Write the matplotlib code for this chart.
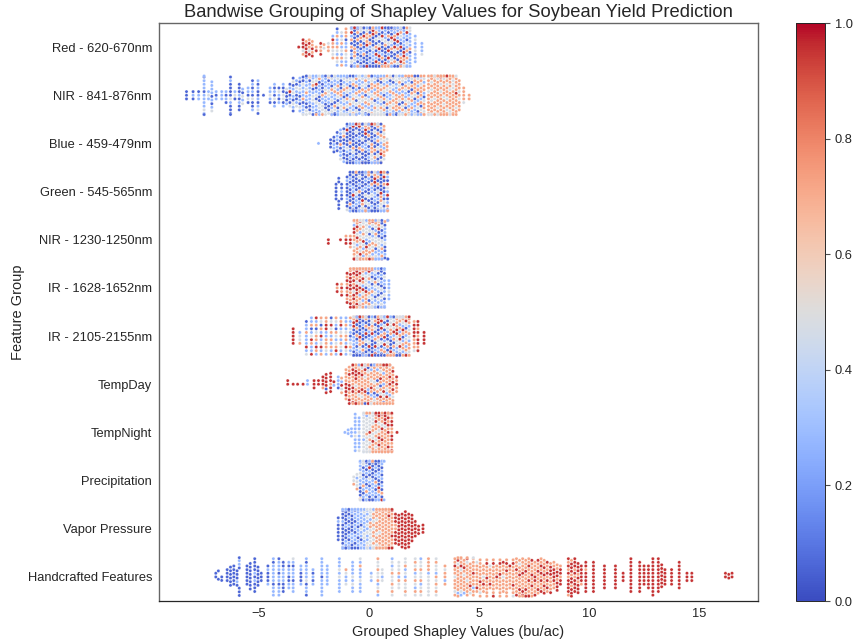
import warnings
from math import gcd
import numpy as np
import pandas as pd
import seaborn as sns
import matplotlib
matplotlib.use("Agg")
import matplotlib.pyplot as plt

warnings.filterwarnings("ignore")

groups = ["Red - 620-670nm", "NIR - 841-876nm", "Blue - 459-479nm", "Green - 545-565nm",
          "NIR - 1230-1250nm", "IR - 1628-1652nm", "IR - 2105-2155nm", "TempDay",
          "TempNight", "Precipitation", "Vapor Pressure", "Handcrafted Features"]

# colour value of each of the five count columns below
hue_levels = [0.06, 0.28, 0.48, 0.72, 0.95]

# x of a column of dots, then (blue, light blue, grey, salmon, red) counts in that column
red_x = [-3.2, -3.0, -2.86, -2.72, -2.58, -2.4, -2.2, -2.05, -1.85, -1.65, -1.45, -1.25, -1.05, -0.8, -0.66, -0.52,
         -0.38, -0.24, -0.1, 0.04, 0.18, 0.32, 0.46, 0.6, 0.74, 0.88, 1.02, 1.16, 1.3, 1.44, 1.58, 1.72, 1.86, 2.1, 2.4]
red_n = [(0,0,0,0,1), (0,0,1,1,3), (0,0,0,1,4), (0,0,1,2,2), (0,0,0,3,2), (0,0,0,1,1), (0,0,0,2,2), (0,0,1,1,0),
         (0,0,1,2,0), (0,1,2,3,1), (1,5,2,3,0), (0,4,3,3,0), (1,4,2,4,0), (5,4,1,3,2), (6,4,1,3,1), (7,3,1,3,1),
         (6,4,2,2,1), (7,3,1,3,1), (6,3,1,3,2), (7,4,1,2,1), (7,3,1,2,2), (6,3,1,3,2), (6,3,2,2,2), (6,3,1,3,2),
         (5,4,1,3,2), (6,3,1,3,2), (5,3,2,3,1), (5,3,1,3,2), (4,4,2,3,2), (4,4,2,3,2), (3,5,2,3,2), (2,6,2,3,1),
         (1,9,2,1,0), (0,6,2,0,0), (0,3,1,0,0)]

nir_x = [-8.3, -8.0, -7.75, -7.5, -7.3, -7.15, -6.95, -6.7, -6.5, -6.3, -6.1, -5.9, -5.75, -5.5, -5.3, -5.05, -4.8,
         -4.5, -4.3, -4.1, -3.9, -3.75, -3.6, -3.45, -3.3, -3.15, -3.0, -2.85, -2.7, -2.55, -2.4, -2.26, -2.12, -1.98,
         -1.84, -1.7, -1.56, -1.42, -1.28, -1.14, -1.0, -0.86, -0.72, -0.58, -0.44, -0.3, -0.16, -0.02, 0.12, 0.26, 0.4,
         0.54, 0.68, 0.82, 0.96, 1.1, 1.24, 1.38, 1.52, 1.66, 1.8, 1.94, 2.08, 2.22, 2.36, 2.5, 2.7, 2.84, 2.98, 3.12,
         3.26, 3.4, 3.54, 3.68, 3.82, 3.96, 4.1, 4.3, 4.55]
nir_n = [(3,0,0,0,0), (2,1,0,0,0), (1,2,0,0,0), (3,10,1,0,0), (0,2,1,0,0), (2,6,1,0,0), (1,2,0,0,0), (0,3,0,0,0),
         (2,2,0,0,0), (9,2,1,0,0), (1,1,1,0,0), (6,2,0,0,0), (1,2,2,0,0), (2,2,1,0,0), (5,3,1,0,0),
         (5,4,1,0,0), (1,0,0,0,0), (1,3,1,0,0), (3,3,1,0,0), (2,2,1,0,0), (3,2,2,0,0), (3,1,1,0,0), (3,2,1,0,1),
         (4,3,3,0,0), (3,3,2,0,0), (3,5,2,0,0), (3,6,2,1,0), (3,5,3,1,0), (3,6,2,1,0), (2,6,3,1,0), (3,5,3,1,1),
         (3,5,3,1,0), (3,5,3,2,0), (3,5,3,1,0), (3,4,4,1,0), (3,5,3,1,1), (3,5,3,2,0), (3,5,3,2,0), (3,4,4,2,0),
         (2,5,4,2,0), (3,4,4,2,0), (2,5,4,2,0), (2,4,4,3,0), (2,4,3,3,1), (2,4,4,2,0), (1,4,5,3,0), (2,4,4,3,0),
         (2,3,4,4,0), (1,4,4,4,0), (1,3,5,4,0), (2,3,4,4,0), (1,3,4,5,0), (2,3,4,4,0), (2,4,3,4,0), (1,4,4,4,0),
         (2,3,4,4,0), (2,3,3,5,0), (1,3,4,5,0), (2,3,3,5,0), (1,3,4,5,0), (2,3,3,5,0), (2,3,2,6,0), (2,4,2,5,0),
         (3,3,2,5,0), (1,3,2,7,0), (1,2,3,7,0), (0,0,3,11,0), (0,0,4,10,0), (0,0,3,11,0), (0,0,3,11,0), (0,0,3,11,1),
         (0,0,3,11,0), (0,0,3,10,1), (0,0,3,11,0), (0,0,3,10,0), (0,0,2,9,1), (0,0,2,7,0), (0,0,1,4,0), (0,0,0,2,0)]

blue_x = [-2.3, -1.75, -1.6, -1.45, -1.3, -1.15, -1.0, -0.86, -0.72, -0.58, -0.44, -0.3, -0.16, -0.02, 0.12, 0.26, 0.4,
          0.54, 0.68, 0.82]
blue_n = [(0,1,0,0,0), (3,0,0,0,0), (3,2,0,0,0), (3,3,0,0,0), (3,4,1,1,0), (6,2,1,1,0), (8,2,1,0,1), (10,3,1,1,0),
          (9,3,1,2,1), (9,3,1,1,1), (8,3,1,2,1), (8,3,2,1,1), (8,2,1,2,2), (7,3,2,2,1), (6,3,2,3,1), (6,3,2,3,1),
          (5,3,3,3,1), (4,3,3,4,1), (0,1,3,6,0), (0,0,1,3,0)]

green_x = [-1.5, -1.38, -1.25, -1.0, -0.86, -0.72, -0.58, -0.44, -0.3, -0.16, -0.02, 0.12, 0.26, 0.4, 0.54, 0.68, 0.84]
green_n = [(5,0,0,0,0), (5,0,0,0,0), (4,1,0,0,0), (7,2,1,0,0), (10,3,1,1,0), (10,3,1,0,1), (9,3,1,1,1), (8,4,2,1,0),
           (8,3,2,1,1), (7,4,2,2,0), (7,3,3,2,0), (7,4,2,2,0), (7,3,1,2,2), (6,4,2,2,1), (6,3,2,2,2), (6,3,2,2,2),
           (4,4,1,3,2)]

nir2_x = [-1.85, -1.3, -1.05, -0.85, -0.68, -0.54, -0.4, -0.26, -0.12, 0.02, 0.16, 0.3, 0.44, 0.58, 0.72, 0.85]
nir2_n = [(0,0,0,0,2), (0,0,0,0,1), (0,0,0,1,2), (0,0,0,2,2), (0,1,3,8,4), (0,1,4,8,3), (0,1,6,6,3), (0,2,6,6,1),
          (1,2,6,5,1), (1,3,5,5,1), (1,3,5,5,1), (2,4,4,4,1), (2,5,4,3,1), (4,5,3,2,1), (5,4,1,1,0), (2,2,0,0,1)]

ir1_x = [-1.45, -1.25, -1.0, -0.85, -0.7, -0.56, -0.42, -0.28, -0.14, 0.0, 0.14, 0.28, 0.42, 0.56, 0.7, 0.9]
ir1_n = [(0,0,0,1,2), (0,0,0,2,2), (0,0,0,4,5), (0,0,0,5,7), (0,0,1,6,8), (0,0,3,6,6), (0,1,4,6,5), (0,2,4,7,3),
         (1,2,5,5,3), (1,4,5,4,2), (3,5,4,2,1), (3,5,4,3,0), (4,6,3,1,0), (5,6,3,1,0), (4,8,2,0,0), (0,5,1,0,0)]

ir2_x = [-3.45, -3.15, -2.85, -2.62, -2.4, -2.18, -1.95, -1.72, -1.5, -1.28, -1.05, -0.85, -0.7, -0.56, -0.42, -0.28,
         -0.14, 0.0, 0.14, 0.28, 0.42, 0.56, 0.7, 0.84, 0.98, 1.12, 1.26, 1.4, 1.54, 1.68, 1.82, 2.05, 2.22, 2.5]
ir2_n = [(0,0,0,0,5), (0,1,2,1,0), (1,6,1,1,1), (1,5,1,2,2), (1,3,1,4,2), (1,3,2,3,2), (0,3,1,5,2), (1,3,2,4,1),
         (1,3,3,3,1), (0,4,2,3,2), (0,5,2,3,1), (1,5,3,2,0), (6,4,1,2,2), (7,3,1,2,2), (7,3,1,2,2), (7,3,1,3,1),
         (6,3,2,2,2), (6,4,1,2,2), (6,3,2,2,2), (6,3,1,3,2), (5,3,2,3,2), (5,3,2,3,2), (4,4,2,3,2), (4,3,3,3,2),
         (3,3,3,4,2), (3,3,3,4,2), (2,3,4,4,2), (2,3,3,5,2), (2,3,3,5,1), (1,3,3,5,2), (0,2,4,7,1), (0,0,1,4,4),
         (0,0,0,3,6), (0,0,0,0,4)]

tday_x = [-3.7, -3.45, -3.25, -3.0, -2.8, -2.5, -2.3, -2.1, -1.95, -1.75, -1.6, -1.4, -1.25, -1.05, -0.9, -0.74, -0.6,
          -0.46, -0.32, -0.18, -0.04, 0.1, 0.24, 0.38, 0.52, 0.66, 0.8, 0.94, 1.08, 1.25]
tday_n = [(0,0,0,0,2), (0,0,0,0,1), (0,0,0,0,1), (0,0,0,0,1), (0,2,0,0,0), (0,0,0,0,3), (0,0,0,0,2), (0,0,0,1,3),
          (1,0,0,0,5), (0,0,0,1,5), (0,1,0,0,1), (1,3,0,0,0), (0,1,1,2,1), (0,0,0,5,4), (0,0,0,6,5), (0,0,0,8,6),
          (0,0,1,10,5), (0,1,1,10,3), (0,1,2,10,3), (1,1,2,9,3), (2,2,2,9,2), (2,2,2,9,1), (2,2,2,9,1), (2,2,2,9,1),
          (1,2,2,9,2), (1,2,2,9,2), (0,1,2,10,3), (0,1,1,9,3), (0,0,1,7,3), (0,0,0,3,2)]

tnight_x = [-1.1, -0.95, -0.8, -0.63, -0.45, -0.25, -0.11, 0.03, 0.17, 0.31, 0.45, 0.59, 0.73, 0.87, 1.03, 1.27]
tnight_n = [(0,1,0,0,0), (0,2,0,0,0), (0,3,0,0,0), (0,10,1,0,0), (0,8,2,0,0), (0,3,12,0,0), (0,1,11,3,0), (0,0,10,4,1),
            (0,0,7,7,1), (0,0,4,8,3), (0,0,3,8,4), (0,0,2,9,4), (0,0,1,9,5), (0,0,0,9,6), (0,0,0,8,6), (0,0,0,0,1)]

precip_x = [-0.7, -0.55, -0.4, -0.26, -0.12, 0.02, 0.16, 0.3, 0.44, 0.58, 0.68]
precip_n = [(0,0,2,1,0), (0,1,3,1,0), (3,7,4,1,0), (5,7,2,1,0), (6,7,1,1,0), (6,7,1,1,1), (7,6,0,1,1), (7,6,1,1,0),
            (7,6,0,1,1), (6,6,0,2,1), (0,3,0,0,0)]

vapor_x = [-1.4, -1.2, -1.06, -0.92, -0.78, -0.64, -0.5, -0.36, -0.22, -0.08, 0.06, 0.2, 0.34, 0.48, 0.62, 0.76, 0.9,
           1.04, 1.2, 1.35, 1.5, 1.65, 1.8, 1.95, 2.1, 2.25, 2.45]
vapor_n = [(6,1,0,0,0), (12,4,0,0,0), (11,5,0,0,0), (10,6,0,0,0), (9,7,0,0,0), (6,10,0,0,0), (4,12,0,0,0), (2,12,2,0,0),
           (0,11,5,0,0), (0,7,8,1,0), (0,3,10,3,0), (0,1,7,8,0), (0,0,3,13,0), (0,0,2,14,0), (0,0,1,15,0), (0,0,0,15,1),
           (0,0,0,14,2), (0,0,0,12,4), (0,0,0,2,7), (0,0,0,0,9), (0,0,0,0,10), (0,0,0,0,11), (0,0,0,0,10), (0,0,0,0,8),
           (0,0,0,0,5), (0,0,0,0,3), (0,0,0,0,3)]

hand_x = [-6.97, -6.85, -6.7, -6.45, -6.3, -6.15, -6.0, -5.9, -5.55, -5.4, -5.2, -5.05, -4.9, -4.6, -4.35, -4.1, -3.9,
          -3.65, -3.45, -3.1, -2.85, -2.55, -2.15, -1.9, -1.35, -1.05, -0.75, -0.4, 0.1, 0.4, 0.6, 1.05, 1.35, 1.65,
          2.1, 2.35, 2.7, 3.05, 3.45, 3.9, 4.04, 4.18, 4.32, 4.46, 4.6, 4.74, 4.9, 5.05, 5.2, 5.35, 5.5, 5.65, 5.8,
          5.95, 6.1, 6.25, 6.4, 6.55, 6.7, 6.84, 6.98, 7.12, 7.26, 7.4, 7.54, 7.68, 7.82, 7.96, 8.1, 8.25, 8.4, 8.55,
          8.7, 9.06, 9.2, 9.35, 9.5, 9.65, 9.85, 10.2, 10.7, 11.2, 11.55, 11.9, 12.3, 12.5, 12.7, 12.9, 13.15, 13.3,
          13.45, 13.75, 14.1, 14.45, 14.67, 16.2, 16.35, 16.5]
hand_n = [(2,0,0,0,0), (2,0,0,0,0), (2,0,0,0,0), (4,0,0,0,0), (6,0,0,0,0), (6,0,0,0,0), (4,1,0,0,0), (5,2,0,0,0),
          (6,0,0,0,0), (8,0,0,0,0), (8,2,0,0,0), (6,0,0,0,0), (3,0,0,0,0), (4,2,0,0,0), (2,9,0,0,0), (3,8,0,0,0),
          (5,4,0,0,0), (3,5,0,0,0), (2,7,1,0,0), (3,3,0,0,0), (3,7,1,0,0), (2,3,0,0,0), (1,10,0,0,0), (0,6,0,0,0),
          (0,8,2,0,0), (0,2,2,1,0), (0,7,2,0,0), (0,7,2,1,0), (0,2,1,0,0), (0,2,5,4,0), (0,1,3,0,0), (0,2,6,3,0),
          (0,1,5,2,0), (0,2,6,3,0), (0,2,5,4,0), (0,2,6,3,0), (0,1,6,4,0), (0,1,6,4,0), (0,1,1,4,0), (0,0,2,8,1),
          (0,1,1,9,1), (0,1,2,8,1), (0,1,1,7,1), (0,0,2,9,1), (0,0,1,7,1), (0,1,1,9,1), (0,0,1,7,1), (0,0,1,9,1),
          (0,0,1,6,1), (0,0,0,9,2), (0,0,1,5,1), (0,0,0,9,2), (0,0,0,6,1), (0,0,0,9,2), (0,0,1,7,1), (0,0,0,9,2),
          (0,0,0,6,1), (0,0,1,8,2), (0,0,0,9,2), (0,0,1,8,2), (0,0,0,9,3), (0,0,0,8,3), (0,0,0,9,3), (0,0,0,8,3),
          (0,0,0,7,3), (0,0,0,7,3), (0,0,0,6,4), (0,0,0,6,4), (0,0,0,5,4), (0,0,0,5,4), (0,0,0,4,4), (0,0,0,3,5),
          (0,0,0,2,4), (0,0,0,4,7), (0,0,0,3,8), (0,0,0,2,8), (0,0,0,2,7), (0,0,0,1,5), (0,0,0,1,8), (0,0,0,0,9),
          (0,0,0,0,7), (0,0,0,0,7), (0,0,0,0,3), (0,0,0,0,10), (0,0,0,0,9), (0,0,0,0,6), (0,0,0,0,7), (0,0,0,0,11),
          (0,0,0,0,10), (0,0,0,0,7), (0,0,0,0,5), (0,0,0,0,5), (0,0,0,0,8), (0,0,0,0,3), (0,0,0,0,3), (0,0,0,0,2),
          (0,0,0,0,2), (0,0,0,0,2)]

row_x = [red_x, nir_x, blue_x, green_x, nir2_x, ir1_x, ir2_x, tday_x, tnight_x, precip_x, vapor_x, hand_x]
row_n = [red_n, nir_n, blue_n, green_n, nir2_n, ir1_n, ir2_n, tday_n, tnight_n, precip_n, vapor_n, hand_n]
strides = [5, 3, 7, 4, 9, 2]


def expand(group, xs, counts):
    """one record per dot, colours stepped through so they mix inside a column"""
    rows = []
    for c, (x, cnt) in enumerate(zip(xs, counts)):
        hues = []
        for k in range(5):
            hues += [hue_levels[k]] * cnt[k]
        n = len(hues)
        step = strides[c % len(strides)]
        while gcd(step, n) > 1:
            step += 1
        for i in range(n):
            rows.append((group, x, hues[(c * 2 + i * step) % n]))
    return rows


records = []
for g, xs, cnt in zip(groups, row_x, row_n):
    records += expand(g, xs, cnt)
df = pd.DataFrame(records, columns=["group", "value", "hue"])

sns.set_theme(style="white")
plt.rcParams["font.family"] = ["Liberation Sans", "DejaVu Sans"]

W, H = 854, 642
fig = plt.figure(figsize=(W / 100, H / 100), dpi=100)
ax = fig.add_axes([159 / W, 1 - 601 / H, (758 - 159) / W, (601 - 23) / H])
sns.swarmplot(data=df, x="value", y="group", hue="hue", order=groups, palette="coolwarm",
              hue_norm=(0, 1), size=2.3, linewidth=0.2, edgecolor="white", legend=False, ax=ax)
ax.set_xlim(-9.55, 17.68)
ax.set_xticks([-5, 0, 5, 10, 15])
ax.tick_params(labelsize=9.25, length=0, pad=5)
for side in ["left", "right", "top"]:
    ax.spines[side].set_color("0.4")
    ax.spines[side].set_linewidth(1.0)
ax.spines["bottom"].set_color("0.15")
ax.spines["bottom"].set_linewidth(0.9)
ax.set_xlabel("Grouped Shapley Values (bu/ac)", fontsize=10.55)
ax.xaxis.set_label_coords(0.5, -0.042)
ax.set_ylabel("Feature Group", fontsize=10.5)
ax.yaxis.set_label_coords(-0.2245, 0.5)
ax.set_title("Bandwise Grouping of Shapley Values for Soybean Yield Prediction", fontsize=13.2, pad=4)

cax = fig.add_axes([796.5 / W, 1 - 601 / H, 29 / W, (601 - 23) / H])
sm = plt.cm.ScalarMappable(cmap="coolwarm", norm=plt.Normalize(0, 1))
cb = fig.colorbar(sm, cax=cax)
cb.outline.set_linewidth(0.7)
cb.ax.tick_params(labelsize=9.25, length=3.5, width=0.8, color="0.3", pad=3)

fig.savefig("out.png", dpi=100)
